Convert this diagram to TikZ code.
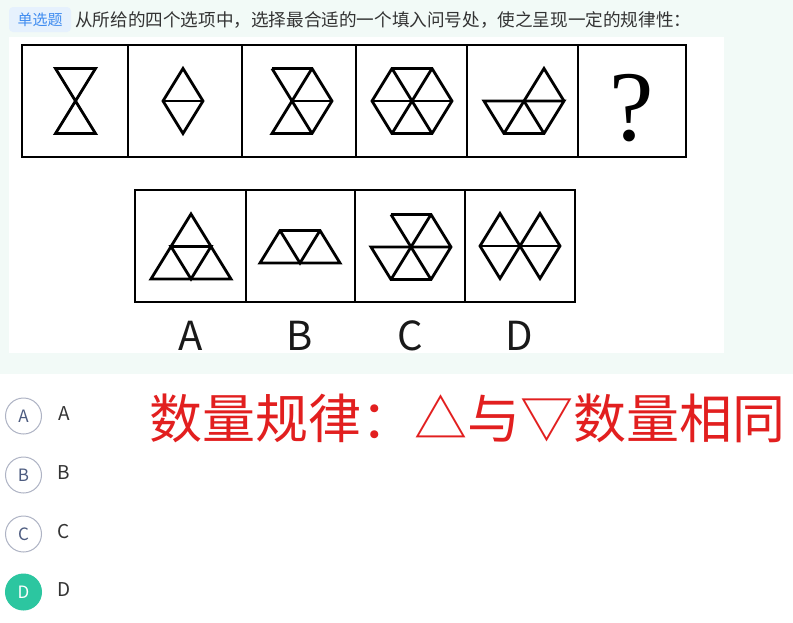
\documentclass[tikz,border=0pt]{standalone}
\usepackage{fontspec}
\setmainfont{Latin Modern Roman}
\newfontfamily\cjk{Noto Sans CJK SC}
\newfontfamily\qfont{Liberation Serif}
\definecolor{mintbg}{HTML}{F2FAF7}
\definecolor{tagbg}{HTML}{E6F1FD}
\definecolor{tagtxt}{HTML}{3F8CF0}
\definecolor{titletxt}{HTML}{333333}
\definecolor{circgray}{HTML}{AEB3C4}
\definecolor{circtxt}{HTML}{4D5C80}
\definecolor{teal}{HTML}{2CC6A0}
\definecolor{hand}{HTML}{E21F1F}
\begin{document}
\begin{tikzpicture}[x=1pt,y=-1pt,
  boxline/.style={line width=2.8pt,black},
  figline/.style={line width=2.8pt,black,line join=miter},
  optcirc/.style={circle,draw=circgray,line width=1pt,minimum size=36pt,inner sep=0pt,text=circtxt,font=\cjk\fontsize{17}{17}\selectfont},
  optlbl/.style={text=titletxt,font=\cjk\fontsize{19}{19}\selectfont,inner sep=0pt},
  anslbl/.style={font=\cjk\fontsize{40}{40}\selectfont,anchor=base,inner sep=0pt,text=black!90}]
\useasboundingbox (0,0) rectangle (793,622);
\fill[white] (0,0) rectangle (793,622);
\fill[mintbg] (0,0) rectangle (793,374);
\fill[white] (9,37) rectangle (724,353);
% title
\fill[tagbg,rounded corners=4pt] (9,7) rectangle (71,32);
\node[text=tagtxt,font=\cjk\fontsize{15}{15}\selectfont,inner sep=0pt] (tag) at (40,19.5) {单选题};
\node[anchor=west,text=titletxt,font=\cjk\fontsize{17.6}{17.6}\selectfont,inner sep=0pt] (title) at (75,19.5) {从所给的四个选项中，选择最合适的一个填入问号处，使之呈现一定的规律性：};
% top row boxes
\draw[boxline] (22,45) rectangle (686,157);
\foreach \xx in {128,242,356,467,578} \draw[boxline] (\xx,45) -- (\xx,157);
% panel 1 hourglass
\draw[figline] (55.5,68.5) -- (95.5,68.5) -- (55.5,133.5) -- (95.5,133.5) -- cycle;
% panel 2 diamond
\draw[figline] (183,68.5) -- (203,101) -- (183,133.5) -- (163,101) -- cycle;
\draw[figline] (163,101) -- (203,101);
% panel 3
\draw[figline] (272,68.5) -- (312,68.5) -- (332,101) -- (312,133.5) -- (272,133.5) -- (312,68.5);
\draw[figline] (272,68.5) -- (312,133.5);
\draw[figline] (292,101) -- (332,101);
% panel 4 hexagon
\draw[figline] (372,101) -- (392,68.5) -- (432,68.5) -- (452,101) -- (432,133.5) -- (392,133.5) -- cycle;
\draw[figline] (372,101) -- (452,101);
\draw[figline] (392,68.5) -- (432,133.5);
\draw[figline] (432,68.5) -- (392,133.5);
% panel 5
\draw[figline] (484,101) -- (564,101) -- (544,133.5) -- (504,133.5) -- cycle;
\draw[figline] (504,133.5) -- (544,68.5) -- (564,101);
\draw[figline] (524,101) -- (544,133.5);
% question mark
\node[anchor=base,inner sep=0pt,font=\qfont\fontsize{100}{100}\selectfont] (qm) at (632,140) {?};
% option boxes
\draw[boxline] (135,190) rectangle (575,302);
\foreach \xx in {246,355,465} \draw[boxline] (\xx,190) -- (\xx,302);
% A
\draw[figline] (191,214) -- (231,279) -- (151,279) -- cycle;
\draw[figline] (171,246.5) -- (211,246.5) -- (191,279) -- cycle;
% B
\draw[figline] (260,263) -- (280,230.5) -- (320,230.5) -- (340,263) -- cycle;
\draw[figline] (280,230.5) -- (300,263) -- (320,230.5);
% C
\draw[figline] (391,214.5) -- (431,214.5) -- (451,247) -- (431,279.5) -- (391,279.5) -- (371,247) -- (451,247);
\draw[figline] (391,214.5) -- (431,279.5);
\draw[figline] (431,214.5) -- (391,279.5);
% D
\draw[figline] (480,246) -- (500,213.5) -- (520,246) -- (540,213.5) -- (560,246) -- (540,278.5) -- (520,246) -- (500,278.5) -- cycle;
\draw[figline] (480,246) -- (560,246);
% labels
\node[anslbl] (la) at (191,350) {A};
\node[anslbl] (lb) at (300,350) {B};
\node[anslbl] (lc) at (410,350) {C};
\node[anslbl] (ld) at (519,350) {D};
% options list
\node[optcirc] (ca) at (23.5,416) {A};
\node[optcirc] (cb) at (23.5,475) {B};
\node[optcirc] (cc) at (23.5,534) {C};
\node[optcirc,fill=teal,draw=teal,text=white] (cd) at (23.5,592) {D};
\node[optlbl] (ta) at (64,414) {A};
\node[optlbl] (tb) at (64,473) {B};
\node[optlbl] (tc) at (64,532) {C};
\node[optlbl] (td) at (64,590) {D};
% handwritten note
\node[anchor=west,inner sep=0pt,text=hand,font=\cjk\fontsize{53}{53}\selectfont] (note) at (149,418) {数量规律：△与▽数量相同};
\end{tikzpicture}
\end{document}
